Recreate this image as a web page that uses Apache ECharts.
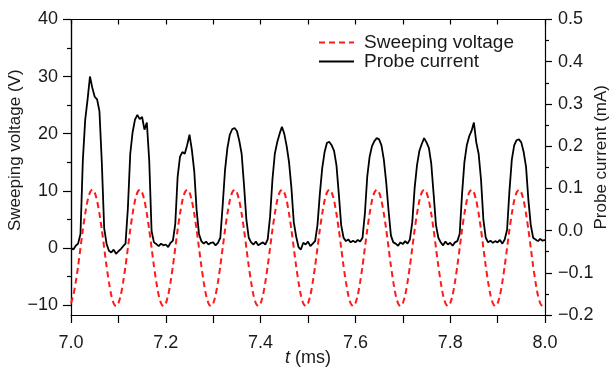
<!DOCTYPE html>
<html><head><meta charset="utf-8">
<script src="https://cdn.jsdelivr.net/npm/echarts@6/dist/echarts.min.js"></script>
<style>html,body{margin:0;padding:0;background:#fff}#c{width:612px;height:370px}</style>
</head><body><div id="c"></div>
<script>
// sampling grid of the traces (ms)
const tStart = 7.0, tStep = 0.005;

// Sweeping voltage (V)
const sweepingVoltage = [
 -9.7,-8.3,-6.0,-3.2,0.0,3.2,6.0,8.3,9.7,10.2,9.7,8.3,6.0,3.2,0.0,-3.2,-6.0,-8.3,-9.7,-10.2,
 -9.7,-8.3,-6.0,-3.2,0.0,3.2,6.0,8.3,9.7,10.2,9.7,8.3,6.0,3.2,0.0,-3.2,-6.0,-8.3,-9.7,-10.2,
 -9.7,-8.3,-6.0,-3.2,0.0,3.2,6.0,8.3,9.7,10.2,9.7,8.3,6.0,3.2,0.0,-3.2,-6.0,-8.3,-9.7,-10.2,
 -9.7,-8.3,-6.0,-3.2,0.0,3.2,6.0,8.3,9.7,10.2,9.7,8.3,6.0,3.2,0.0,-3.2,-6.0,-8.3,-9.7,-10.2,
 -9.7,-8.3,-6.0,-3.2,0.0,3.2,6.0,8.3,9.7,10.2,9.7,8.3,6.0,3.2,0.0,-3.2,-6.0,-8.3,-9.7,-10.2,
 -9.7,-8.3,-6.0,-3.2,0.0,3.2,6.0,8.3,9.7,10.2,9.7,8.3,6.0,3.2,0.0,-3.2,-6.0,-8.3,-9.7,-10.2,
 -9.7,-8.3,-6.0,-3.2,0.0,3.2,6.0,8.3,9.7,10.2,9.7,8.3,6.0,3.2,0.0,-3.2,-6.0,-8.3,-9.7,-10.2,
 -9.7,-8.3,-6.0,-3.2,0.0,3.2,6.0,8.3,9.7,10.2,9.7,8.3,6.0,3.2,0.0,-3.2,-6.0,-8.3,-9.7,-10.2,
 -9.7,-8.3,-6.0,-3.2,0.0,3.2,6.0,8.3,9.7,10.2,9.7,8.3,6.0,3.2,0.0,-3.2,-6.0,-8.3,-9.7,-10.2,
 -9.7,-8.3,-6.0,-3.2,0.0,3.2,6.0,8.3,9.7,10.2,9.7,8.3,6.0,3.2,0.0,-3.2,-6.0,-8.3,-9.7,-10.2,
 -9.7
];

// Probe current (mA)
const probeCurrent = [
 -0.041,-0.045,-0.036,-0.031,-0.008,0.167,0.263,0.311,0.365,0.338,0.317,0.311,0.283,0.162,0.006,-0.031,-0.048,-0.052,-0.045,-0.055,
 -0.049,-0.044,-0.037,-0.031,0.053,0.182,0.233,0.263,0.274,0.264,0.269,0.239,0.256,0.167,-0.001,-0.028,-0.032,-0.037,-0.031,-0.035,
 -0.033,-0.039,-0.029,-0.024,0.016,0.128,0.175,0.186,0.182,0.202,0.227,0.191,0.141,0.049,-0.008,-0.025,-0.031,-0.026,-0.033,-0.029,
 -0.028,-0.035,-0.029,-0.017,0.060,0.144,0.196,0.227,0.240,0.243,0.236,0.213,0.182,0.108,0.026,-0.017,-0.028,-0.033,-0.026,-0.035,
 -0.031,-0.028,-0.033,-0.021,0.033,0.121,0.182,0.209,0.229,0.246,0.229,0.200,0.162,0.101,0.020,-0.014,-0.039,-0.045,-0.029,-0.033,
 -0.026,-0.037,-0.031,-0.025,0.013,0.087,0.148,0.186,0.208,0.210,0.202,0.189,0.155,0.087,0.013,-0.017,-0.025,-0.021,-0.028,-0.024,
 -0.028,-0.022,-0.026,-0.017,0.040,0.128,0.175,0.200,0.212,0.219,0.216,0.202,0.168,0.114,0.047,-0.012,-0.028,-0.031,-0.036,-0.028,
 -0.032,-0.025,-0.031,-0.021,0.020,0.101,0.155,0.189,0.205,0.219,0.209,0.196,0.159,0.087,0.013,-0.017,-0.028,-0.035,-0.026,-0.033,
 -0.029,-0.036,-0.028,-0.025,-0.008,0.087,0.162,0.202,0.223,0.236,0.256,0.209,0.182,0.121,0.026,-0.017,-0.028,-0.024,-0.029,-0.025,
 -0.028,-0.022,-0.031,-0.021,0.002,0.094,0.168,0.202,0.214,0.216,0.209,0.186,0.151,0.072,0.013,-0.017,-0.021,-0.025,-0.020,-0.024,
 -0.022
];

// axis ranges / ticks
const xRange = [7.0, 8.0], xTickStep = 0.2;
const vRange = [-10, 40], vTickStep = 10;
const iRange = [-0.2, 0.5], iTickStep = 0.1;
const seriesNames = ['Sweeping voltage', 'Probe current'];

const times = sweepingVoltage.map((_, i) => +(tStart + i * tStep).toFixed(4));
const vData = sweepingVoltage.map((v, i) => [times[i], v]);
const iData = probeCurrent.map((v, i) => [times[i], v]);

const FONT = 'Liberation Sans, Arial, sans-serif';
const TXT = '#1a1a1a';
const minus = s => s.replace('-', '\u2212');
const lineBlack = { show: true, onZero: false, lineStyle: { color: '#000', width: 1.2 } };

const chart = echarts.init(document.getElementById('c'), null, { renderer: 'canvas' });
chart.setOption({
  animation: false,
  backgroundColor: '#fff',
  textStyle: { fontFamily: FONT },
  grid: [
    { left: 71, right: 67, top: 19.5, height: 285.5, containLabel: false, outerBoundsMode: 'none' },
    { left: 71, right: 67, top: 19.5, height: 295.5, containLabel: false, outerBoundsMode: 'none' }
  ],
  legend: {
    data: seriesNames,
    orient: 'vertical', left: 313, top: 28,
    itemWidth: 35, itemHeight: 12, itemGap: 0,
    itemStyle: { opacity: 0 },
    textStyle: { fontSize: 19, color: TXT, fontFamily: FONT, lineHeight: 14.5, padding: [0, 0, 0, 5] }
  },
  xAxis: [
    { gridIndex: 0, type: 'value', min: xRange[0], max: xRange[1], show: false, axisLine: { onZero: false } },
    { gridIndex: 1, type: 'value', position: 'bottom', min: xRange[0], max: xRange[1], interval: xTickStep,
      axisLine: lineBlack,
      axisTick: { show: true, length: 8, lineStyle: { color: '#000', width: 1.2 } },
      minorTick: { show: true, splitNumber: 2, length: 8, lineStyle: { color: '#000', width: 1.2 } },
      splitLine: { show: false },
      axisLabel: { fontSize: 18, color: TXT, margin: 19, formatter: v => v.toFixed(1) },
      name: '{i|t} (ms)', nameLocation: 'middle', nameGap: 34, nameMoveOverlap: false,
      nameTextStyle: { fontSize: 18, color: TXT, rich: { i: { fontStyle: 'italic', fontSize: 18, color: TXT } } }
    },
    { gridIndex: 1, type: 'value', position: 'top', min: xRange[0], max: xRange[1], interval: xTickStep,
      axisLine: lineBlack,
      axisTick: { show: true, inside: true, length: 5, lineStyle: { color: '#000', width: 1.2 } },
      minorTick: { show: true, splitNumber: 2, length: 5, lineStyle: { color: '#000', width: 1.2 } },
      splitLine: { show: false }, axisLabel: { show: false }
    }
  ],
  yAxis: [
    { gridIndex: 0, type: 'value', position: 'left', min: vRange[0], max: vRange[1], interval: vTickStep,
      axisLine: lineBlack,
      axisTick: { show: true, length: 8, lineStyle: { color: '#000', width: 1.2 } },
      minorTick: { show: true, splitNumber: 2, length: 4, lineStyle: { color: '#000', width: 1.2 } },
      splitLine: { show: false },
      axisLabel: { fontSize: 18, color: TXT, margin: 13, formatter: v => minus(String(Math.round(v))) },
      name: 'Sweeping voltage (V)', nameLocation: 'middle', nameGap: 47, nameMoveOverlap: false,
      nameTextStyle: { fontSize: 17, color: TXT, padding: [0, 0, 0, 24] }
    },
    { gridIndex: 1, type: 'value', position: 'left', min: iRange[0], max: iRange[1],
      axisLine: lineBlack, axisTick: { show: false }, axisLabel: { show: false }, splitLine: { show: false }
    },
    { gridIndex: 1, type: 'value', position: 'right', min: iRange[0], max: iRange[1], interval: iTickStep,
      axisLine: lineBlack,
      axisTick: { show: true, length: 7, lineStyle: { color: '#000', width: 1.2 } },
      minorTick: { show: true, splitNumber: 2, length: 4, lineStyle: { color: '#000', width: 1.2 } },
      splitLine: { show: false },
      axisLabel: { fontSize: 18, color: TXT, margin: 13,
        formatter: v => Math.abs(v) < 1e-9 ? '0.0' : minus(v.toFixed(1)) },
      name: 'Probe current (mA)', nameLocation: 'middle', nameGap: 48, nameMoveOverlap: false,
      nameTextStyle: { fontSize: 17, color: TXT, padding: [0, 0, 0, 20] }
    }
  ],
  series: [
    { name: seriesNames[1], type: 'line', xAxisIndex: 1, yAxisIndex: 2, data: iData,
      symbol: 'none', showSymbol: false, color: '#000',
      lineStyle: { color: '#000', width: 1.8 }, z: 2 },
    { name: seriesNames[0], type: 'line', xAxisIndex: 0, yAxisIndex: 0, data: vData,
      symbol: 'none', showSymbol: false, clip: false, smooth: 0.2, color: '#ff1a1a',
      lineStyle: { color: '#ff1a1a', width: 2, type: [6, 4] }, z: 3 }
  ]
});
</script></body></html>
